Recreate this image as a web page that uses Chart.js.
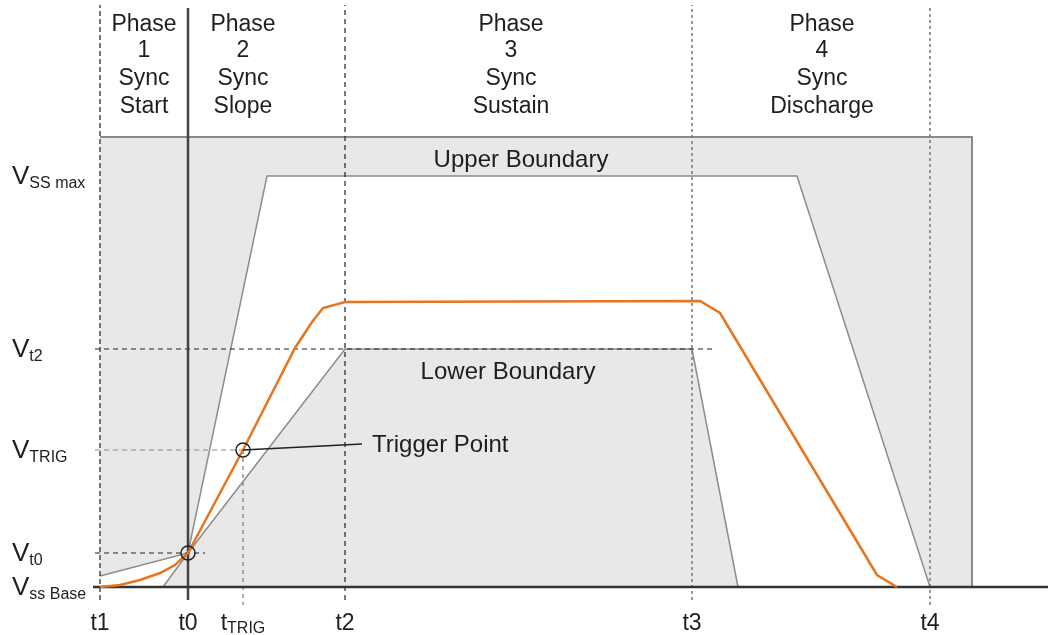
<!DOCTYPE html>
<html>
<head>
<meta charset="utf-8">
<script src="https://cdn.jsdelivr.net/npm/chart.js@4.4.0/dist/chart.umd.min.js"></script>
<style>
  body { margin: 0; background: #fff; }
  canvas { display: block; }
</style>
</head>
<body>
<canvas id="grafikSync" width="1048" height="635"></canvas>
<script>
// titik waktu (sumbu x) dan level tegangan (sumbu y)
const timeNames = ['t1', 't0', 't', 't2', 't3', 't4'];
const timeSubs = ['', '', 'TRIG', '', '', ''];
const timeValues = [100, 188, 243, 345, 692, 930];

const voltSubs = ['SS max', 't2', 'TRIG', 't0', 'ss Base'];
const voltValues = [411, 238, 137, 34, 0];

const phaseCenters = [144, 243, 511, 822];
const phaseNums = ['1', '2', '3', '4'];
const phaseNames = ['Start', 'Slope', 'Sustain', 'Discharge'];

// kotak abu-abu
const boxT = [100, 972, 972];
const boxV = [450, 450, 0];

// batas atas dan bawah
const upperT = [100, 188, 267, 797, 930];
const upperV = [11, 34, 411, 411, 0];
const lowerT = [163, 188, 345, 692, 738];
const lowerV = [0, 34, 238, 238, 0];

// respon tegangan (oranye)
const respT = [100, 120, 140, 160, 175, 188, 243, 295, 312, 323, 345, 700, 720, 877, 897];
const respV = [0, 2, 7, 14, 22, 34, 137, 239, 265, 279, 285, 286, 274, 12, 0];

// garis penunjuk trigger
const trigLineT = [243, 362];
const trigLineV = [137, 143];

function pts(xs, ys) {
    return xs.map(function (x, i) { return { x: x, y: ys[i] }; });
}

function garis(xs, ys, warna, dash, lebar, urutan) {
    return {
        data: pts(xs, ys),
        borderColor: warna,
        borderWidth: lebar,
        borderDash: dash,
        pointRadius: 0,
        fill: false,
        tension: 0,
        order: urutan
    };
}

const fontUtama = '"Liberation Sans", Arial, sans-serif';

const teks = {
    id: 'teks',
    afterDatasetsDraw(chart) {
        const ctx = chart.ctx;
        const sx = chart.scales.x;
        const sy = chart.scales.y;
        ctx.save();
        ctx.fillStyle = '#1e1e1e';
        ctx.textBaseline = 'alphabetic';

        // header fase
        ctx.font = '23px ' + fontUtama;
        ctx.textAlign = 'center';
        const headerV = [556, 530, 502, 474];
        phaseCenters.forEach(function (c, i) {
            let baris = ['Phase', phaseNums[i], 'Sync', phaseNames[i]];
            baris.forEach(function (b, j) {
                ctx.fillText(b, sx.getPixelForValue(c), sy.getPixelForValue(headerV[j]));
            });
        });

        ctx.font = '24px ' + fontUtama;
        ctx.fillText('Upper Boundary', sx.getPixelForValue(521), sy.getPixelForValue(420));
        ctx.fillText('Lower Boundary', sx.getPixelForValue(508), sy.getPixelForValue(208));
        ctx.textAlign = 'left';
        ctx.fillText('Trigger Point', sx.getPixelForValue(372), sy.getPixelForValue(135));

        // label tegangan kiri
        voltValues.forEach(function (v, i) {
            let x = sx.getPixelForValue(12);
            let y = sy.getPixelForValue(v);
            ctx.font = '26px ' + fontUtama;
            ctx.fillText('V', x, y + 8);
            let w = ctx.measureText('V').width;
            ctx.font = '16px ' + fontUtama;
            ctx.fillText(voltSubs[i], x + w, y + 12);
        });

        // label waktu bawah
        timeValues.forEach(function (t, i) {
            ctx.font = '23px ' + fontUtama;
            let w1 = ctx.measureText(timeNames[i]).width;
            ctx.font = '16px ' + fontUtama;
            let w2 = timeSubs[i] ? ctx.measureText(timeSubs[i]).width : 0;
            let x = sx.getPixelForValue(t) - (w1 + w2) / 2;
            let y = sy.getPixelForValue(-43);
            ctx.font = '23px ' + fontUtama;
            ctx.fillText(timeNames[i], x, y);
            if (w2) {
                ctx.font = '16px ' + fontUtama;
                ctx.fillText(timeSubs[i], x + w1, y + 3);
            }
        });
        ctx.restore();
    }
};

const datasets = [
    // kotak abu-abu
    {
        data: pts(boxT, boxV),
        borderColor: '#8a8a8a',
        borderWidth: 2,
        backgroundColor: '#e8e8e8',
        fill: 'origin',
        pointRadius: 0,
        tension: 0,
        order: 20
    },
    // area putih di bawah batas atas
    {
        data: pts(upperT, upperV),
        borderColor: '#8c8c8c',
        borderWidth: 1.5,
        backgroundColor: '#ffffff',
        fill: 'origin',
        pointRadius: 0,
        tension: 0,
        order: 19
    },
    // area abu-abu di bawah batas bawah
    {
        data: pts(lowerT, lowerV),
        borderColor: '#8c8c8c',
        borderWidth: 1.5,
        backgroundColor: '#e8e8e8',
        fill: 'origin',
        pointRadius: 0,
        tension: 0,
        order: 18
    },
    // garis bantu putus-putus
    garis([95, 712], [238, 238], '#222', [5, 4], 1.2, 10),
    garis([95, 243], [137, 137], '#888', [5, 4], 1.2, 10),
    garis([95, 205], [34, 34], '#222', [5, 4], 1.2, 10),
    garis([timeValues[0], timeValues[0]], [-13, 582], '#222', [5, 3], 1.2, 10),
    garis([timeValues[2], timeValues[2]], [137, -18], '#777', [4, 4], 1.2, 10),
    garis([timeValues[3], timeValues[3]], [-13, 582], '#222', [5, 4], 1.2, 10),
    garis([timeValues[4], timeValues[4]], [-13, 582], '#777', [3, 3], 1.5, 10),
    garis([timeValues[5], timeValues[5]], [-18, 582], '#777', [3, 3], 1.5, 10),
    // sumbu
    garis([93, 1048], [0, 0], '#333', [], 2.5, 6),
    garis([timeValues[1], timeValues[1]], [-13, 579], '#444', [], 2.5, 6),
    // respon
    garis(respT, respV, '#e8741e', [], 2.5, 4),
    // penunjuk trigger
    garis(trigLineT, trigLineV, '#222', [], 1.5, 3),
    // lingkaran
    {
        data: pts([timeValues[1], timeValues[2]], [voltValues[3], voltValues[2]]),
        showLine: false,
        pointRadius: 7,
        pointBorderWidth: 1.5,
        pointBorderColor: '#222',
        pointBackgroundColor: 'rgba(0,0,0,0)',
        order: 1
    }
];

new Chart(document.getElementById('grafikSync'), {
    type: 'line',
    data: { datasets: datasets },
    options: {
        responsive: false,
        animation: false,
        layout: { padding: 0, autoPadding: false },
        plugins: {
            legend: { display: false },
            tooltip: { enabled: false }
        },
        scales: {
            x: { type: 'linear', min: 0, max: 1048, display: false },
            y: { type: 'linear', min: -48, max: 587, display: false }
        }
    },
    plugins: [teks]
});
</script>
</body>
</html>
